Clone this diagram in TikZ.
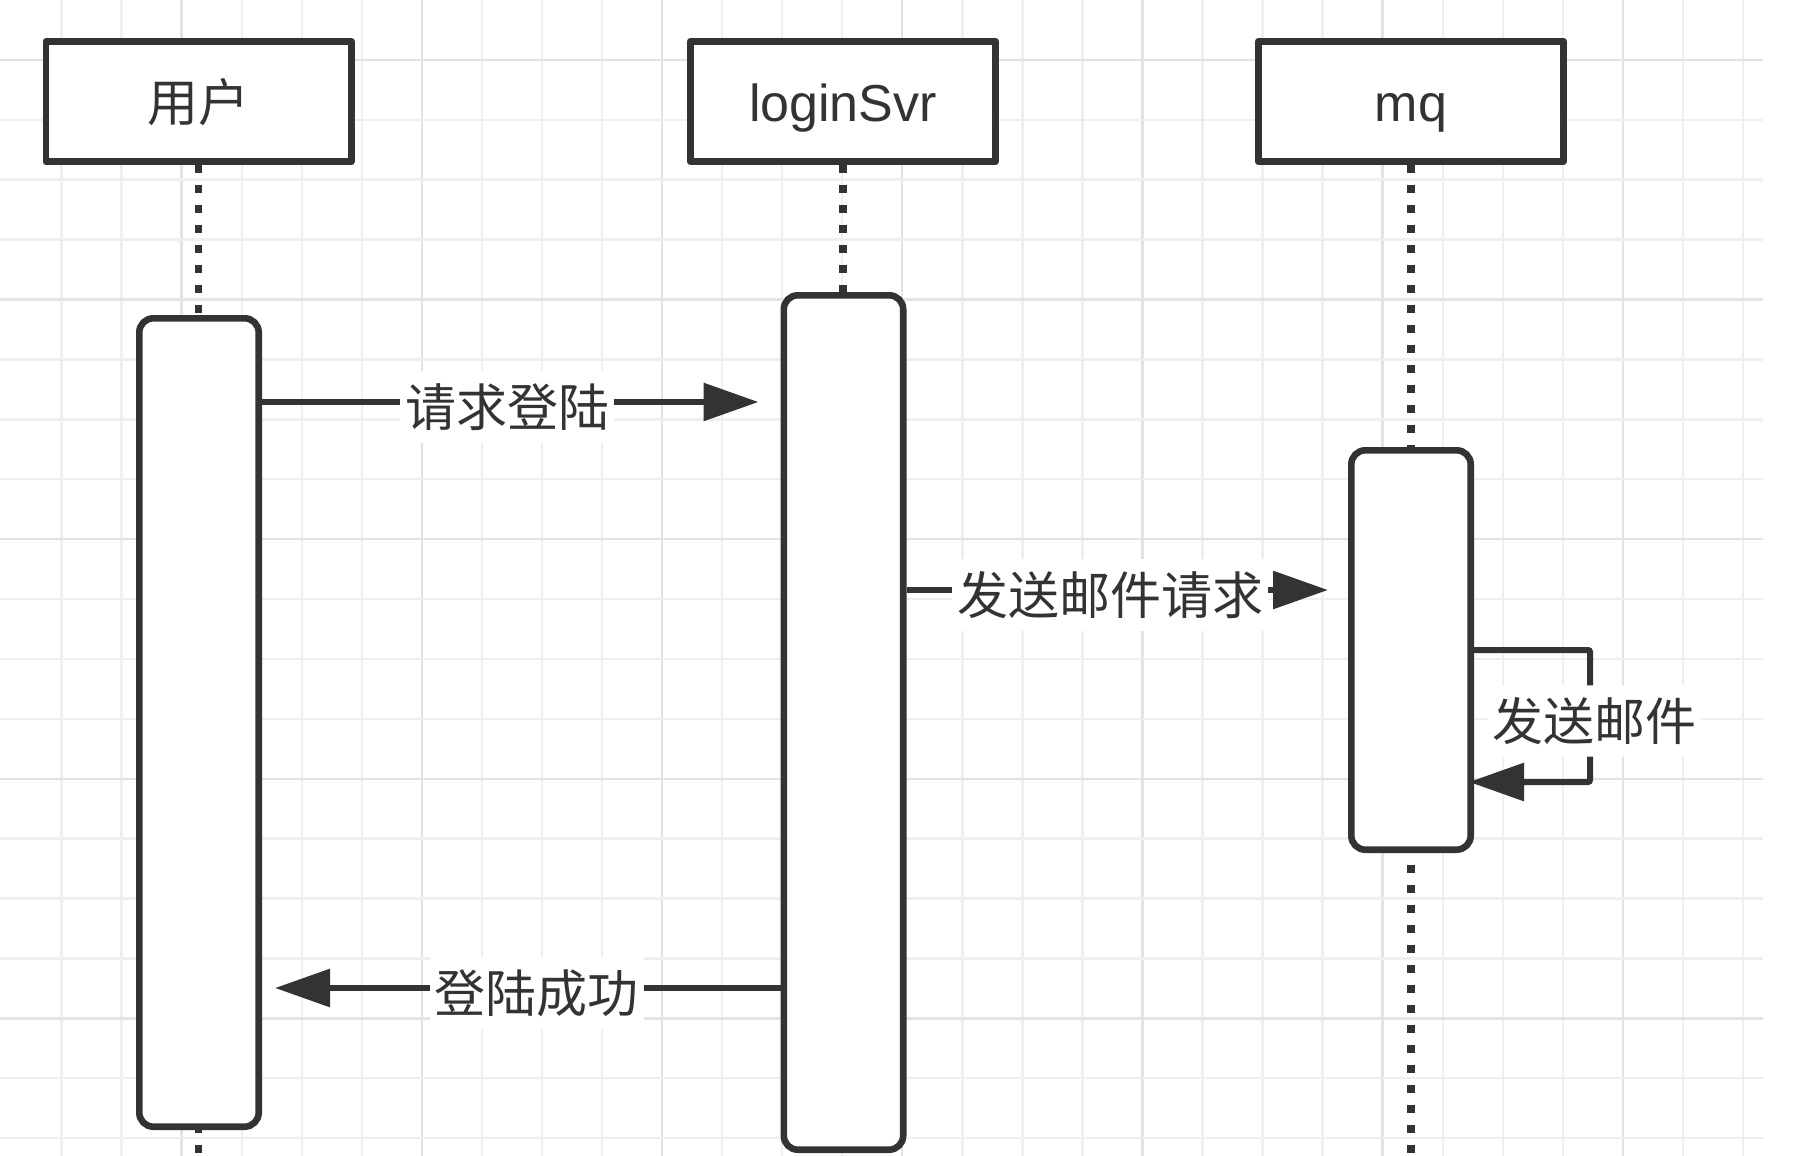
\documentclass[tikz,border=0pt]{standalone}
\usepackage{fontspec}
\setmainfont{Liberation Sans}
\newfontfamily\cjkfont{Noto Sans CJK SC}
\usetikzlibrary{arrows.meta}
\definecolor{ink}{HTML}{333333}
\definecolor{gridminor}{HTML}{EFEFEF}
\definecolor{gridmajor}{HTML}{E3E3E3}
\begin{document}
\begin{tikzpicture}[x=0.5pt,y=-0.5pt,
  header/.style={draw=ink, line width=3.3pt, fill=white, minimum width=152.7pt,
    minimum height=60.2pt, inner sep=0pt, line join=round, text=ink,
    text height=24pt, text depth=3.5pt},
  actbox/.style={draw=ink, line width=3.3pt, fill=white, minimum width=59.7pt,
    rounded corners=7pt, inner sep=0pt},
  lifeline/.style={draw=ink, line width=3.8pt, dash pattern=on 4pt off 6pt},
  msg/.style={draw=ink, line width=3pt, -{Triangle[length=27.5pt,width=18.5pt]}},
  msglabel/.style={fill=white, text=ink, font=\cjkfont\fontsize{25.5pt}{30pt}\selectfont,
    inner xsep=2.5pt, inner ysep=6pt, yshift=-2.5pt},
  latintext/.style={font=\fontsize{26pt}{30pt}\selectfont},
  cjktext/.style={font=\cjkfont\fontsize{25.5pt}{30pt}\selectfont}
]
\useasboundingbox (0,0) rectangle (1806,1156);
\fill[white] (0,0) rectangle (1806,1156);
% grid
\foreach \k in {1,...,29}{
  \pgfmathtruncatemacro\ismaj{mod(\k,4)==3 ? 1 : 0}
  \ifnum\ismaj=1 \def\gc{gridmajor}\else\def\gc{gridminor}\fi
  \draw[\gc, line width=1.2pt] ({1.5+60.05*\k},0) -- ({1.5+60.05*\k},1156);
}
\foreach \k in {1,...,19}{
  \pgfmathtruncatemacro\ismaj{mod(\k,4)==1 ? 1 : 0}
  \ifnum\ismaj=1 \def\gc{gridmajor}\else\def\gc{gridminor}\fi
  \draw[\gc, line width=1.2pt] (0,{59.9*\k}) -- (1763,{59.9*\k});
}
% headers
\node[header, cjktext] (h1) at (198.5,101.5) {用户};
\node[header, latintext] (h2) at (843,101.5) {loginSvr};
\node[header, latintext] (h3) at (1411,101.5) {mq};
% lifelines
\coordinate (e1) at (198.5,1170);
\coordinate (e2) at (843,1170);
\coordinate (e3) at (1411,1170);
\draw[lifeline] (h1.south) -- (e1);
\draw[lifeline] (h2.south) -- (e2);
\draw[lifeline] (h3.south) -- (e3);
% activation boxes
\node[actbox, minimum height=404.2pt] (a1) at (199,722.5) {};
\node[actbox, minimum height=427.2pt] (a2) at (843.5,722.5) {};
\node[actbox, minimum height=199.7pt] (a3) at (1411,650) {};
% messages
\draw[msg, shorten >=11pt] (a1.east |- 0,402) -- node[msglabel, pos=0.473]{请求登陆} (a2.west |- 0,402);
\draw[msg, shorten >=10pt] (a2.east |- 0,590) -- node[msglabel, pos=0.461]{发送邮件请求} (a3.west |- 0,590);
\coordinate (s1) at (1590,650);
\coordinate (s2) at (1590,782);
\draw[msg, shorten >=-2.5pt, rounded corners=1pt] (a3.east |- 0,650) -- (s1) -- node[msglabel, xshift=2pt]{发送邮件} (s2) -- (a3.east |- 0,782);
\draw[msg, shorten >=6.5pt] (a2.west |- 0,988) -- node[msglabel, pos=0.47]{登陆成功} (a1.east |- 0,988);
\end{tikzpicture}
\end{document}
